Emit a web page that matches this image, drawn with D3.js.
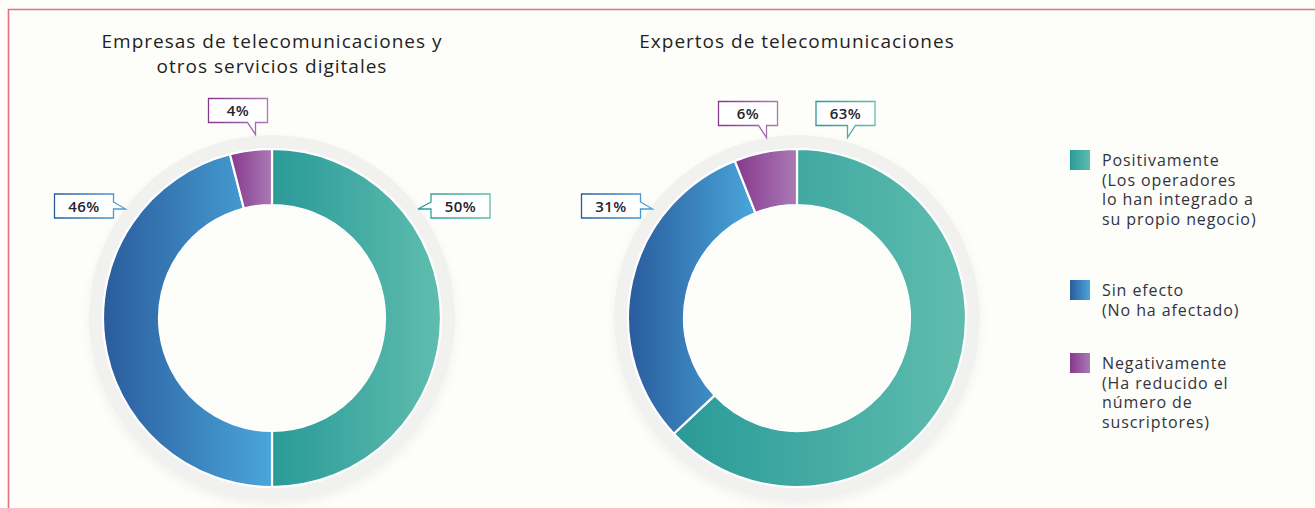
<!DOCTYPE html>
<html>
<head>
<meta charset="utf-8">
<script src="https://cdn.jsdelivr.net/npm/d3@7"></script>
<style>
  html, body { margin: 0; padding: 0; background: #fdfdf9; }
  svg { display: block; font-family: "Open Sans", sans-serif; }
</style>
</head>
<body>
<svg id="chart"></svg>
<script>
var categories = ['Positivamente', 'Sin efecto', 'Negativamente'];
var legendLines = [
  ['Positivamente', '(Los operadores', 'lo han integrado a', 'su propio negocio)'],
  ['Sin efecto', '(No ha afectado)'],
  ['Negativamente', '(Ha reducido el', 'número de', 'suscriptores)']
];
var empresasValues = [50, 46, 4];
var expertosValues = [63, 31, 6];
var chartTitles = [
  ['Empresas de telecomunicaciones y', 'otros servicios digitales'],
  ['Expertos de telecomunicaciones']
];

var width = 1315, height = 508;
var outerR = 169, innerR = 113, ringR = 183;
var colors = [
  ['#2a9a98', '#5fbdae'],
  ['#2a5c9c', '#4aa6db'],
  ['#86388e', '#aa7ab4']
];
var gradId = ['gTeal', 'gBlue', 'gPurple'];

// callout boxes, offsets from the donut centre
var calloutLayout = [
  [
    {dx: 188.5, dy: -112, side: 'left'},
    {dx: -188, dy: -112, side: 'right'},
    {dx: -34, dy: -207.5, side: 'bottom', tipDx: 13}
  ],
  [
    {dx: 48.5, dy: -204.5, side: 'bottomL', tipDx: -13.5},
    {dx: -186, dy: -112, side: 'right'},
    {dx: -49, dy: -204.5, side: 'bottom', tipDx: 14}
  ]
];

var svg = d3.select('#chart').attr('width', width).attr('height', height);
var defs = svg.append('defs');

gradId.forEach(function(id, i) {
  var g = defs.append('linearGradient').attr('id', id)
    .attr('x1', '0%').attr('x2', '100%').attr('y1', '0%').attr('y2', '0%');
  g.append('stop').attr('offset', '0%').attr('stop-color', colors[i][0]);
  g.append('stop').attr('offset', '100%').attr('stop-color', colors[i][1]);
});

var shadow = defs.append('filter').attr('id', 'ringShadow')
  .attr('x', '-20%').attr('y', '-20%').attr('width', '140%').attr('height', '140%');
shadow.append('feDropShadow').attr('dx', 0).attr('dy', 4).attr('stdDeviation', 5)
  .attr('flood-color', '#000').attr('flood-opacity', 0.05);

// frame
svg.append('path')
  .attr('d', 'M8.5,' + height + ' V9.5 H' + width)
  .attr('fill', 'none').attr('stroke', '#e8707f').attr('stroke-width', 1.6);

var centers = [[272, 318], [797, 318]];
var pie = d3.pie().sort(null).value(function(d) { return d; })
  .startAngle(0).endAngle(2 * Math.PI);
var arc = d3.arc().innerRadius(innerR).outerRadius(outerR);

function calloutPath(w, h, side, tipDx) {
  var x0 = -w / 2, x1 = w / 2, y0 = -h / 2, y1 = h / 2;
  if (side === 'left') {
    return 'M' + x0 + ',' + y0 + ' H' + x1 + ' V' + y1 + ' H' + x0 + ' V' + (y1 - 9) +
      ' H' + (x0 - 13) + ' L' + x0 + ',' + (y1 - 16) + ' Z';
  }
  if (side === 'right') {
    return 'M' + x0 + ',' + y0 + ' H' + x1 + ' V' + (y1 - 16) + ' L' + (x1 + 12) + ',' + (y1 - 9) +
      ' H' + x1 + ' V' + y1 + ' H' + x0 + ' Z';
  }
  if (side === 'bottom') {
    return 'M' + x0 + ',' + y0 + ' H' + x1 + ' V' + y1 + ' H' + (x0 + tipDx + 34) +
      ' V' + (y1 + 12) + ' L' + (x0 + tipDx + 26) + ',' + y1 + ' H' + x0 + ' Z';
  }
  // bottom, mirrored notch
  return 'M' + x0 + ',' + y0 + ' H' + x1 + ' V' + y1 + ' H' + (x1 + tipDx - 6) +
    ' L' + (x1 + tipDx - 14) + ',' + (y1 + 12) + ' V' + y1 + ' H' + x0 + ' Z';
}

[empresasValues, expertosValues].forEach(function(values, ci) {
  var g = svg.append('g').attr('transform', 'translate(' + centers[ci][0] + ',' + centers[ci][1] + ')');

  g.append('circle').attr('r', ringR).attr('fill', '#f1f1ef').attr('filter', 'url(#ringShadow)');
  g.append('circle').attr('r', innerR - 1).attr('fill', '#fdfdf9');

  g.selectAll('.slice')
    .data(pie(values))
    .enter()
    .append('path')
    .classed('slice', true)
    .attr('d', arc)
    .attr('fill', function(d, i) { return 'url(#' + gradId[i] + ')'; })
    .attr('stroke', '#ffffff')
    .attr('stroke-width', 2.2);

  var title = svg.append('text')
    .attr('text-anchor', 'middle')
    .attr('font-size', 19)
    .attr('letter-spacing', 1)
    .attr('fill', '#1f1f24');
  chartTitles[ci].forEach(function(line, li) {
    title.append('tspan').attr('x', centers[ci][0]).attr('y', 48 + li * 25).text(line);
  });

  values.forEach(function(v, i) {
    var lay = calloutLayout[ci][i];
    var cg = g.append('g').attr('transform', 'translate(' + lay.dx + ',' + lay.dy + ')');
    cg.append('path')
      .attr('d', calloutPath(59, 24, lay.side, lay.tipDx))
      .attr('fill', '#ffffff')
      .attr('stroke', 'url(#' + gradId[i] + ')')
      .attr('stroke-width', 1.3);
    cg.append('text')
      .attr('text-anchor', 'middle')
      .attr('y', 5.5)
      .attr('font-size', 15)
      .attr('font-weight', 600)
      .attr('letter-spacing', 0.5)
      .attr('fill', '#24242e')
      .text(v + '%');
  });
});

// legend
var legendY = [150, 280, 353];
var legend = svg.append('g').attr('transform', 'translate(1070,0)');
categories.forEach(function(c, i) {
  legend.append('rect')
    .attr('x', 0).attr('y', legendY[i])
    .attr('width', 20).attr('height', 20)
    .attr('fill', 'url(#' + gradId[i] + ')');
  var t = legend.append('text').attr('font-size', 16).attr('letter-spacing', 0.9).attr('fill', '#33333f');
  legendLines[i].forEach(function(line, li) {
    t.append('tspan').attr('x', 32).attr('y', legendY[i] + 16 + li * 19.7).text(line);
  });
});
</script>
</body>
</html>
